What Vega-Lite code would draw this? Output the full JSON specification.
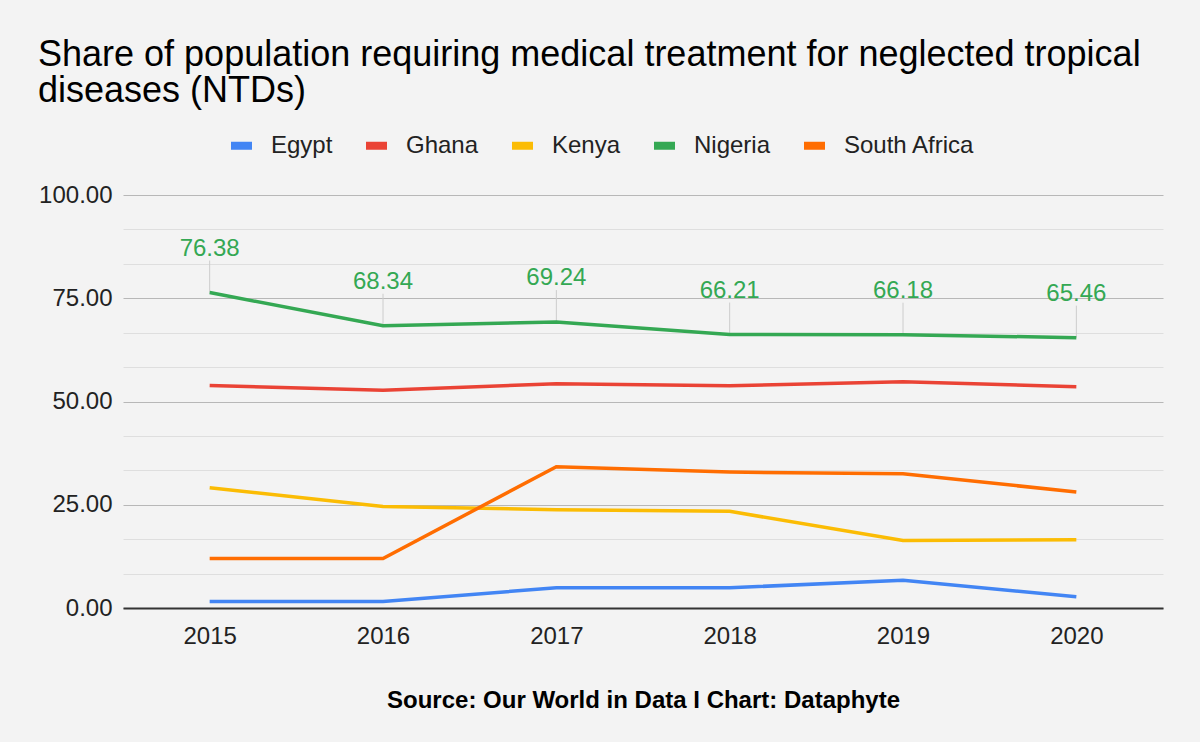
{
  "$schema": "https://vega.github.io/schema/vega-lite/v6.json",
  "width": 1040,
  "height": 413,
  "autosize": {"type": "none"},
  "padding": {"left": 123, "top": 195, "right": 37, "bottom": 134},
  "background": "#f3f3f3",
  "config": {"view": {"stroke": null}, "font": "Liberation Sans"},
  "title": {
    "text": ["Share of population requiring medical treatment for neglected tropical", "diseases (NTDs)"],
    "anchor": "start",
    "frame": "group",
    "dx": -85,
    "fontSize": 36,
    "fontWeight": "normal",
    "color": "#000000",
    "lineHeight": 36,
    "offset": 21
  },
  "data": {
    "values": [
      {"year": "2015", "country": "Egypt", "value": 1.6},
      {"year": "2016", "country": "Egypt", "value": 1.6},
      {"year": "2017", "country": "Egypt", "value": 4.9},
      {"year": "2018", "country": "Egypt", "value": 4.9},
      {"year": "2019", "country": "Egypt", "value": 6.7},
      {"year": "2020", "country": "Egypt", "value": 2.75},
      {"year": "2015", "country": "Ghana", "value": 53.9},
      {"year": "2016", "country": "Ghana", "value": 52.7},
      {"year": "2017", "country": "Ghana", "value": 54.3},
      {"year": "2018", "country": "Ghana", "value": 53.8},
      {"year": "2019", "country": "Ghana", "value": 54.8},
      {"year": "2020", "country": "Ghana", "value": 53.6},
      {"year": "2015", "country": "Kenya", "value": 29.1},
      {"year": "2016", "country": "Kenya", "value": 24.6},
      {"year": "2017", "country": "Kenya", "value": 23.8},
      {"year": "2018", "country": "Kenya", "value": 23.4},
      {"year": "2019", "country": "Kenya", "value": 16.35},
      {"year": "2020", "country": "Kenya", "value": 16.5},
      {"year": "2015", "country": "Nigeria", "value": 76.38},
      {"year": "2016", "country": "Nigeria", "value": 68.34},
      {"year": "2017", "country": "Nigeria", "value": 69.24},
      {"year": "2018", "country": "Nigeria", "value": 66.21},
      {"year": "2019", "country": "Nigeria", "value": 66.18},
      {"year": "2020", "country": "Nigeria", "value": 65.46},
      {"year": "2015", "country": "South Africa", "value": 12.0},
      {"year": "2016", "country": "South Africa", "value": 12.0},
      {"year": "2017", "country": "South Africa", "value": 34.2},
      {"year": "2018", "country": "South Africa", "value": 32.9},
      {"year": "2019", "country": "South Africa", "value": 32.5},
      {"year": "2020", "country": "South Africa", "value": 28.1}
    ]
  },
  "encoding": {
    "x": {
      "field": "year",
      "type": "ordinal",
      "scale": {"type": "point", "padding": 0.5},
      "axis": {
        "title": "Source: Our World in Data I Chart: Dataphyte",
        "titleFontWeight": "bold",
        "titleFontSize": 24,
        "titleColor": "#000000",
        "titlePadding": 40,
        "labelFontSize": 24,
        "labelColor": "#222222",
        "labelAngle": 0,
        "ticks": false,
        "labelPadding": 16,
        "domainColor": "#333333",
        "domainWidth": 2,
        "grid": false,
        "zindex": 1
      }
    },
    "y": {
      "field": "value",
      "type": "quantitative",
      "scale": {"domain": [0, 100], "nice": false},
      "axis": {
        "title": null,
        "values": [0, 8.333333333333334, 16.666666666666668, 25, 33.333333333333336, 41.666666666666664, 50, 58.333333333333336, 66.66666666666667, 75, 83.33333333333333, 91.66666666666667, 100],
        "labelExpr": "datum.value % 25 === 0 ? format(datum.value, '.2f') : ''",
        "labelOverlap": false,
        "labelFontSize": 24,
        "labelColor": "#222222",
        "labelPadding": 11,
        "domain": false,
        "ticks": false,
        "grid": true,
        "gridColor": {"condition": {"test": "datum.value % 25 === 0", "value": "#b7b7b7"}, "value": "#dedede"},
        "gridWidth": 1
      }
    }
  },
  "layer": [
    {
      "transform": [{"filter": "datum.country === 'Nigeria'"}],
      "mark": {"type": "rule", "color": "#cccccc", "strokeWidth": 1, "y2Offset": -32},
      "encoding": {"y2": {"field": "value"}}
    },
    {
      "mark": {"type": "line", "strokeWidth": 3.5},
      "encoding": {
        "color": {
          "field": "country",
          "type": "nominal",
          "scale": {
            "domain": ["Egypt", "Ghana", "Kenya", "Nigeria", "South Africa"],
            "range": ["#4285f4", "#ea4335", "#fbbc04", "#34a853", "#ff6d01"]
          },
          "legend": {
            "title": null,
            "orient": "none",
            "legendX": 104,
            "legendY": -64,
            "direction": "horizontal",
            "symbolType": "stroke",
            "symbolSize": 441,
            "symbolStrokeWidth": 8,
            "labelFontSize": 24,
            "labelColor": "#222222",
            "labelOffset": 15,
            "columnPadding": 17
          }
        }
      }
    },
    {
      "transform": [{"filter": "datum.country === 'Nigeria'"}],
      "mark": {"type": "text", "fontSize": 24, "color": "#34a853", "dy": -44, "baseline": "middle"},
      "encoding": {"text": {"field": "value", "type": "quantitative", "format": ".2f"}}
    }
  ]
}
